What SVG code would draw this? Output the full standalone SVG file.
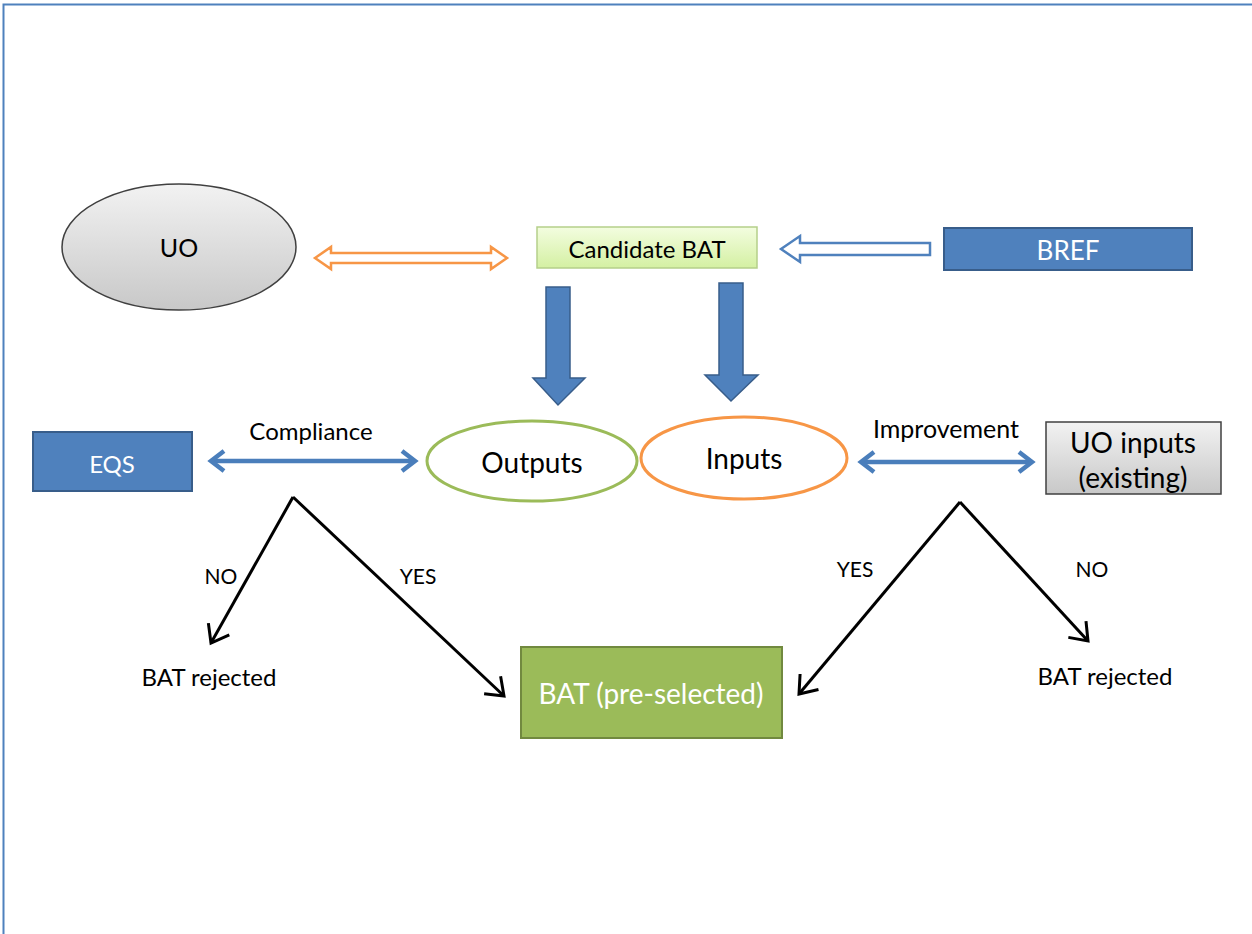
<svg xmlns="http://www.w3.org/2000/svg" width="1252" height="934" viewBox="0 0 1252 934">
<defs>
<linearGradient id="gGray" x1="0" y1="0" x2="0" y2="1"><stop offset="0" stop-color="#f2f2f2"/><stop offset="1" stop-color="#c8c8c8"/></linearGradient>
<linearGradient id="gCand" x1="0" y1="0" x2="0" y2="1"><stop offset="0" stop-color="#f3fde0"/><stop offset="1" stop-color="#d4f0a2"/></linearGradient>
<marker id="blk" markerWidth="10" markerHeight="10" refX="8" refY="5" orient="auto" markerUnits="userSpaceOnUse" viewBox="0 0 10 10" overflow="visible">
<path d="M-8,-7 L8,5 L-8,17" fill="none" stroke="#000" stroke-width="3"/>
</marker>
<marker id="blu" markerWidth="10" markerHeight="10" refX="8" refY="5" orient="auto-start-reverse" markerUnits="userSpaceOnUse" viewBox="0 0 10 10" overflow="visible">
<path d="M-4,-5 L9,5 L-4,15" fill="none" stroke="#4a7ebb" stroke-width="4.5" stroke-linejoin="miter"/>
</marker>
</defs>
<style>
text{font-family:Lato,"Liberation Sans",sans-serif;text-anchor:middle;dominant-baseline:central;fill:#000}
.w{fill:#fff}
.blue{fill:#4f81bd;stroke:#385d8a;stroke-width:2}
.blk{stroke:#000;stroke-width:3;fill:none;marker-end:url(#blk)}
.bl2{stroke:#4a7ebb;stroke-width:4.5;fill:none;marker-start:url(#blu);marker-end:url(#blu)}
.lab{font-size:21px}
.rej{font-size:24px}
</style>
<rect width="1252" height="934" fill="#fff"/>
<path d="M3.5,934 V4.5 H1252" fill="none" stroke="#4f81bd" stroke-width="2"/>

<g id="connectors">
<polygon points="315,258 331,247 331,253 491,253 491,247 507,258 491,269 491,263 331,263 331,269" fill="#fff" stroke="#f79646" stroke-width="2.5" stroke-linejoin="miter"/>
<polygon points="781,249 800,236 800,243 930,243 930,255 800,255 800,262" fill="#fff" stroke="#4f81bd" stroke-width="2.5"/>
<polygon points="546,287 570,287 570,378 585,378 558,405 533,378 546,378" fill="#4f81bd" stroke="#385d8a" stroke-width="1.5"/>
<polygon points="719,283 743,283 743,375 758,375 731,401 705,375 719,375" fill="#4f81bd" stroke="#385d8a" stroke-width="1.5"/>
<line class="bl2" x1="212" y1="461" x2="414" y2="461"/>
<line class="bl2" x1="862" y1="462" x2="1031" y2="462"/>
<line class="blk" x1="293" y1="497" x2="211" y2="643"/>
<line class="blk" x1="293" y1="497" x2="504" y2="696"/>
<line class="blk" x1="960" y1="502" x2="799" y2="694"/>
<line class="blk" x1="960" y1="502" x2="1088" y2="641"/>
</g>

<g id="uo">
<ellipse cx="179" cy="247" rx="117" ry="63" fill="url(#gGray)" stroke="#404040" stroke-width="1.5"/>
<text x="179" y="247" font-size="25">UO</text>
</g>
<g id="candidate">
<rect x="537" y="227" width="220" height="41" fill="url(#gCand)" stroke="#b5cf8a" stroke-width="1.5"/>
<text x="647" y="248" font-size="24">Candidate BAT</text>
</g>
<g id="bref">
<rect class="blue" x="944" y="228" width="248" height="42"/>
<text class="w" x="1068" y="250" font-size="26">BREF</text>
</g>
<g id="eqs">
<rect class="blue" x="33" y="432" width="159" height="59"/>
<text class="w" x="112" y="463" font-size="24">EQS</text>
</g>
<g id="outputs">
<ellipse cx="532" cy="461" rx="105" ry="40" fill="#fff" stroke="#9bbb59" stroke-width="3"/>
<text x="532" y="462" font-size="28">Outputs</text>
</g>
<g id="inputs">
<ellipse cx="744" cy="458" rx="103" ry="41" fill="#fff" stroke="#f79646" stroke-width="3"/>
<text x="744" y="458" font-size="28">Inputs</text>
</g>
<g id="uoinputs">
<rect x="1046" y="422" width="175" height="72" fill="url(#gGray)" stroke="#404040" stroke-width="1.5"/>
<text x="1133" y="442" font-size="28">UO inputs</text>
<text x="1133" y="477" font-size="28">(existing)</text>
</g>
<g id="batpre">
<rect x="521" y="647" width="261" height="91" fill="#9bbb59" stroke="#71893f" stroke-width="2"/>
<text class="w" x="651" y="693" font-size="28">BAT (pre-selected)</text>
</g>
<g id="labels">
<text x="311" y="430" font-size="24">Compliance</text>
<text x="946" y="428" font-size="25">Improvement</text>
<text class="lab" x="221" y="575">NO</text>
<text class="lab" x="418" y="575">YES</text>
<text class="lab" x="855" y="568">YES</text>
<text class="lab" x="1092" y="568">NO</text>
</g>
<g id="rejL"><text class="rej" x="209" y="676">BAT rejected</text></g>
<g id="rejR"><text class="rej" x="1105" y="675">BAT rejected</text></g>
</svg>
